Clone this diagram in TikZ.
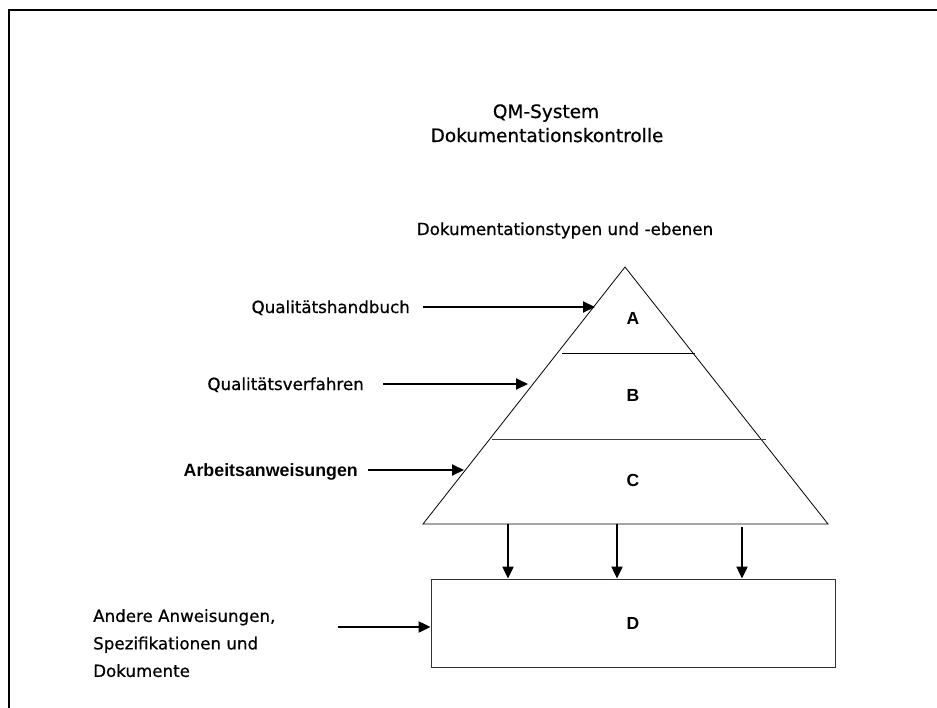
\documentclass[tikz,border=0pt]{standalone}
\usepackage{fontspec}
\setmainfont{DejaVu Sans}[BoldFont=DejaVu Sans, BoldFeatures={FakeBold=0.6}]
\newfontfamily\arialfont{Liberation Sans}
\usetikzlibrary{arrows.meta,calc}
\begin{document}
\begin{tikzpicture}[x=1pt,y=-1pt,
  lbl/.style={inner sep=0pt, font=\bfseries\fontsize{16.7}{27.5}\selectfont},
  ttl/.style={inner sep=0pt, font=\bfseries\fontsize{18.5}{24}\selectfont},
  blbl/.style={inner sep=0pt, font=\arialfont\bfseries\fontsize{17.8}{22}\selectfont},
  layer/.style={inner sep=0pt, font=\arialfont\bfseries\fontsize{17.5}{20}\selectfont},
  arr/.style={line width=2pt, -{Triangle[length=12pt,width=11pt]}},
  thin/.style={line width=0.8pt}]
\useasboundingbox (0,0) rectangle (937,707);
% frame
\draw[line width=2pt] (9,710) -- (9,10) -- (940,10);
% titles
\node[ttl, anchor=base] (t1) at (546,118) {QM-System};
\node[ttl, anchor=base] (t2) at (547,142) {Dokumentationskontrolle};
\node[lbl, anchor=base] (t3) at (565,235) {Dokumentationstypen und -ebenen};
% pyramid
\coordinate (apex) at (625,267);
\coordinate (bl) at (423,524);
\coordinate (br) at (828,524);
\draw[thin] (apex) -- (bl) -- (br) -- cycle;
\draw[thin] (562,353) -- (695,353);
\draw[thin, black!75] (492,439) -- (766,439);
\node[layer, anchor=base] (A) at (633,324) {A};
\node[layer, anchor=base] (B) at (633,401) {B};
\node[layer, anchor=base] (C) at (633,486) {C};
% box D
\node[draw, thin, black!80, text=black, minimum width=404pt, minimum height=88pt, inner sep=0pt,
      font=\arialfont\bfseries\fontsize{17.5}{20}\selectfont] (D) at (633,623) {D};
% left labels
\node[lbl, anchor=base east] (qh) at (410,313) {Qualitätshandbuch};
\node[lbl, anchor=base east] (qv) at (364,390) {Qualitätsverfahren};
\node[blbl, anchor=base east] (aw) at (358,476) {Arbeitsanweisungen};
\node[lbl, anchor=north west, align=left] (an) at (93,609) {Andere Anweisungen,\\Spezifikationen und\\Dokumente};
% arrow tips on the pyramid
\coordinate (tipA) at (595,307);
\coordinate (tipB) at (528,384);
\coordinate (tipC) at (464,470);
\draw[arr, shorten <=13pt] (qh.east |- tipA) -- (tipA);
\draw[arr, shorten <=19pt] (qv.east |- tipB) -- (tipB);
\draw[arr, shorten <=10pt] (aw.east |- tipC) -- (tipC);
% down arrows
\coordinate (b1) at (508,524);
\coordinate (b2) at (617,524);
\coordinate (b3) at (742,527);
\draw[arr] (b1) -- (b1 |- D.north);
\draw[arr] (b2) -- (b2 |- D.north);
\draw[arr] (b3) -- (b3 |- D.north);
% arrow into D
\coordinate (aS) at (338,627);
\draw[arr] (aS) -- (aS -| D.west);
\end{tikzpicture}
\end{document}
